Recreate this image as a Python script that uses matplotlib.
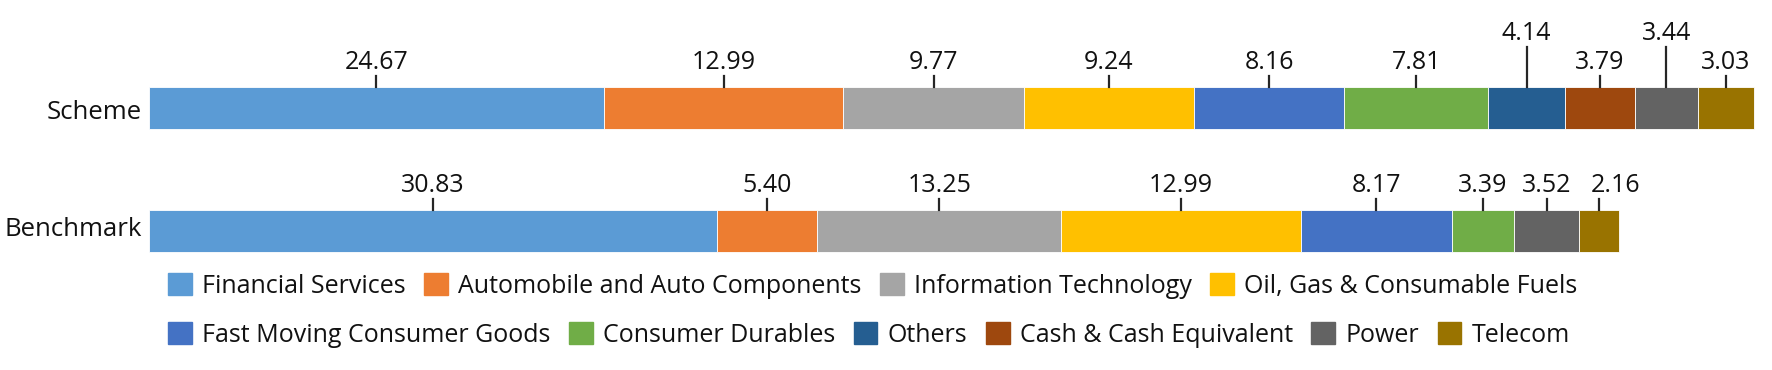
import matplotlib
matplotlib.use("Agg")
import matplotlib.pyplot as plt
from matplotlib.patches import Patch

plt.rcParams['font.family'] = ['Open Sans', 'DejaVu Sans']

# Data
rows = ["Scheme", "Benchmark"]
sectors = ["Financial Services", "Automobile and Auto Components", "Information Technology",
           "Oil, Gas & Consumable Fuels", "Fast Moving Consumer Goods", "Consumer Durables",
           "Others", "Cash & Cash Equivalent", "Power", "Telecom"]
scheme = [24.67, 12.99, 9.77, 9.24, 8.16, 7.81, 4.14, 3.79, 3.44, 3.03]
benchmark = [30.83, 5.40, 13.25, 12.99, 8.17, 3.39, 0.0, 0.0, 3.52, 2.16]
colors = ["#5B9BD5", "#ED7D31", "#A5A5A5", "#FFC000", "#4472C4", "#70AD47",
          "#255E91", "#9E480E", "#636363", "#997300"]

# labels that sit higher / get nudged sideways to avoid overlap
raised = {("Scheme", "Others"), ("Scheme", "Power")}
nudge_px = {("Benchmark", "Telecom"): 17}

W, H = 1772, 370
fig = plt.figure(figsize=(W / 100, H / 100), dpi=100)
ax = fig.add_axes([0, 0, 1, 1])

# pixel mapping
x0_px, x1_px = 149, 1754
px_per_unit = (x1_px - x0_px) / sum(scheme)
ax.set_xlim(-x0_px / px_per_unit, (W - x0_px) / px_per_unit)
row0_px, row_gap = 108, 123
ax.set_ylim((H - row0_px) / row_gap, -row0_px / row_gap)
ax.axis("off")

bar_h = 42 / row_gap
fs = 18
tick_col = "#262626"
name_base_px = [11, 5]

for i, (name, vals) in enumerate(zip(rows, [scheme, benchmark])):
    left = 0
    for sec, v, c in zip(sectors, vals, colors):
        if v <= 0:
            continue
        ax.barh(i, v, left=left, height=bar_h, color=c, edgecolor="white", linewidth=0.6)
        cx = left + v / 2
        top = i - bar_h / 2
        lift = 40 if (name, sec) in raised else 11
        ax.plot([cx, cx], [top, top - lift / row_gap], color=tick_col, lw=1.6)
        tx = cx + nudge_px.get((name, sec), 0) / px_per_unit
        ax.text(tx, top - (lift + 1) / row_gap, f"{v:.2f}", ha="center", va="bottom",
                fontsize=fs, color="#111111")
        left += v
    ax.text(-7 / px_per_unit, i + name_base_px[i] / row_gap, name, ha="right",
            va="baseline", fontsize=18.5, color="#111111")

# legend in two flowing rows
handles = [Patch(facecolor=c, edgecolor=c) for c in colors]
kw = dict(frameon=False, fontsize=fs, handlelength=0.95, handleheight=0.95,
          handletextpad=0.4, columnspacing=0.75, borderpad=0, borderaxespad=0)
leg1 = fig.legend(handles[:4], sectors[:4], ncol=4, loc="center left",
                  bbox_to_anchor=(168 / W, 1 - 286 / H), **kw)
leg2 = fig.legend(handles[4:], sectors[4:], ncol=6, loc="center left",
                  bbox_to_anchor=(168 / W, 1 - 335 / H), **kw)
for leg in (leg1, leg2):
    for t in leg.get_texts():
        t.set_color("#111111")

fig.savefig("out.png", dpi=100)
